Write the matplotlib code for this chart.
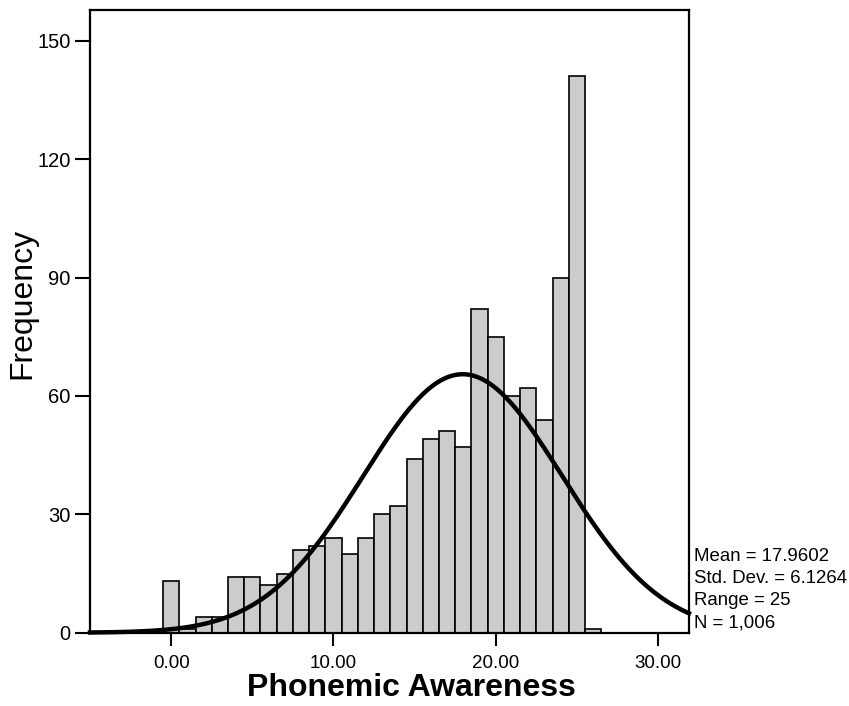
"""Histogram of Phonemic Awareness scores with a fitted normal curve."""

import matplotlib

matplotlib.use("Agg")

import matplotlib.pyplot as plt
import numpy as np

plt.rcParams["font.family"] = ["Liberation Sans", "DejaVu Sans"]

# score values (bins of width 1, centred on integers) and their counts
scores = list(range(0, 27))
counts = [13, 1, 4, 4, 14, 14, 12, 15, 21, 22, 24, 20, 24, 30, 32,
          44, 49, 51, 47, 82, 75, 60, 62, 54, 90, 141, 1]

# summary stats shown beside the plot
mean = 17.9602
std_dev = 6.1264
value_range = 25
n_total = 1006

x_ticks = [0, 10, 20, 30]
y_ticks = [0, 30, 60, 90, 120, 150]

fig = plt.figure(figsize=(8.49, 7.06), dpi=100)
ax = fig.add_axes([0.106, 0.1038, 0.7055, 0.882])

ax.bar(scores, counts, width=1.0, color="#cccccc", edgecolor="black",
       linewidth=1.2, zorder=2)

# normal curve scaled to counts (bin width 1)
xlim = (-5.0, 31.9)
xs = np.linspace(xlim[0], xlim[1], 400)
curve = n_total / (std_dev * np.sqrt(2 * np.pi)) * np.exp(-0.5 * ((xs - mean) / std_dev) ** 2)
ax.plot(xs, curve, color="black", linewidth=3.2, zorder=3, clip_on=False)

ax.set_xlim(*xlim)
ax.set_ylim(0, 157.8)
ax.set_xticks(x_ticks)
ax.set_xticklabels([f"{t:.2f}" for t in x_ticks])
ax.set_yticks(y_ticks)
ax.tick_params(axis="x", direction="out", length=9, width=1.5, labelsize=13.5, pad=7)
ax.tick_params(axis="y", direction="out", length=11, width=1.5, labelsize=14.5, pad=3)
for spine in ax.spines.values():
    spine.set_linewidth(1.6)

fig.text(22.7 / 849, 1 - 303 / 706, "Frequency", rotation=90, fontsize=23,
         ha="center", va="center")
fig.text(411 / 849, 1 - 688 / 706, "Phonemic Awareness", fontsize=23,
         fontweight="bold", ha="center", va="center")

stats_lines = [
    f"Mean = {mean:.4f}",
    f"Std. Dev. = {std_dev:.4f}",
    f"Range = {value_range}",
    f"N = {n_total:,}",
]
for i, line in enumerate(stats_lines):
    fig.text(694 / 849, 1 - (561 + 22 * i) / 706, line, fontsize=13.4,
             ha="left", va="baseline")

fig.savefig("out.png", dpi=100)
